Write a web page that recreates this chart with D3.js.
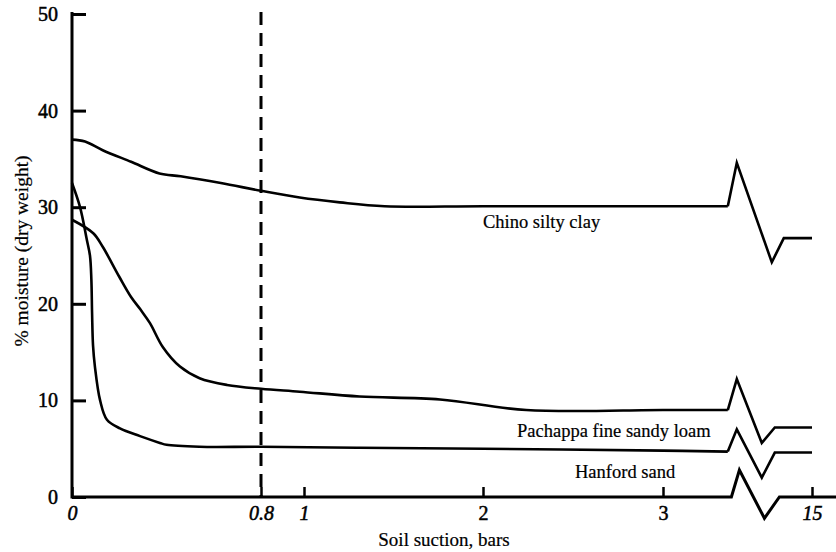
<!DOCTYPE html>
<html>
<head>
<meta charset="utf-8">
<script src="https://cdn.jsdelivr.net/npm/d3@7"></script>
<style>
    body { margin: 0; background: #fff; }
    text { font-family: "Liberation Serif", "Times New Roman", serif; fill: #000; }
</style>
</head>
<body>
<script>
// soil suction (bars) and moisture (% dry weight)
const chinoSuction = [0, 0.055, 0.13, 0.25, 0.37, 0.46, 0.63, 0.8, 0.98, 1.2, 1.45, 2.0, 3.0, 3.36];
const chinoMoisture = [37.0, 36.8, 35.9, 34.7, 33.5, 33.2, 32.5, 31.7, 31.0, 30.5, 30.1, 30.1, 30.1, 30.1];

const pachappaSuction = [0, 0.09, 0.13, 0.2, 0.25, 0.29, 0.33, 0.385, 0.457, 0.54, 0.656, 0.8, 0.98, 1.31, 1.76, 2.24, 3.0, 3.36];
const pachappaMoisture = [28.7, 27.3, 25.9, 22.8, 20.7, 19.4, 18.0, 15.5, 13.5, 12.3, 11.6, 11.2, 10.9, 10.4, 10.1, 9.0, 9.0, 9.0];

const hanfordSuction = [0, 0.034, 0.063, 0.076, 0.082, 0.085, 0.089, 0.097, 0.119, 0.148, 0.203, 0.288, 0.372, 0.40, 0.54, 0.8, 1.31, 2.0, 3.0, 3.36];
const hanfordMoisture = [32.5, 30.0, 26.6, 25.0, 22.5, 19.0, 15.7, 13.5, 10.0, 8.0, 7.1, 6.3, 5.6, 5.4, 5.2, 5.2, 5.1, 5.0, 4.8, 4.7];

// value at the zigzag peak, at its trough, and at 15 bars
const chinoBreak = [34.6, 24.3, 26.8];
const pachappaBreak = [12.2, 5.6, 7.2];
const hanfordBreak = [7.0, 2.0, 4.6];
const axisBreak = [2.8, -2.2, 0];

const seriesNames = ['Chino silty clay', 'Pachappa fine sandy loam', 'Hanford sand'];

const xTickValues = [0, 0.8, 1, 2, 3, 15];
const xTickLabels = ['0', '0.8', '1', '2', '3', '15'];
const yTickValues = [0, 10, 20, 30, 40, 50];
const markedSuction = 0.8;

drawChart();

function drawChart()
{
    const width = 836;
    const height = 552;

    const svg = d3.select('body')
        .append('svg')
        .attr('width', width)
        .attr('height', height);

    // the printed axis is not evenly spaced, so map it piece by piece
    const x = d3.scaleLinear()
        .domain([0, 0.8, 1, 2, 3, 3.4, 15])
        .range([72, 261, 304, 483, 663, 735, 812]);

    const y = d3.scaleLinear()
        .domain([0, 50])
        .range([497, 14]);

    const lastSuction = 3.36;
    const zig = {peak: 9, trough: 34, resume: 47};

    const series = [
        {name: seriesNames[0], s: chinoSuction, m: chinoMoisture, br: chinoBreak, trough: 44, resume: 56},
        {name: seriesNames[1], s: pachappaSuction, m: pachappaMoisture, br: pachappaBreak, trough: zig.trough, resume: zig.resume},
        {name: seriesNames[2], s: hanfordSuction, m: hanfordMoisture, br: hanfordBreak, trough: zig.trough, resume: zig.resume}
    ];

    const line = d3.line()
        .x(d => d[0])
        .y(d => d[1])
        .curve(d3.curveCatmullRom.alpha(0.5));

    const g = svg.append('g');

    // dashed line at 0.8 bar
    g.append('line')
        .attr('x1', x(markedSuction))
        .attr('x2', x(markedSuction))
        .attr('y1', y(50) - 2)
        .attr('y2', y(0))
        .attr('stroke', '#000')
        .attr('stroke-width', 3)
        .attr('stroke-dasharray', '13,8');

    // curves
    series.forEach(d =>
    {
        const pts = d.s.map((v, i) => [x(v), y(d.m[i])]);
        g.append('path')
            .attr('d', line(pts))
            .attr('fill', 'none')
            .attr('stroke', '#000')
            .attr('stroke-width', 2.6);

        const x0 = x(lastSuction);
        const yEnd = y(d.m[d.m.length - 1]);
        const brk = [
            [x0, yEnd],
            [x0 + zig.peak, y(d.br[0])],
            [x0 + d.trough, y(d.br[1])],
            [x0 + d.resume, y(d.br[2])],
            [x(15), y(d.br[2])]
        ];
        g.append('path')
            .attr('d', d3.line()(brk))
            .attr('fill', 'none')
            .attr('stroke', '#000')
            .attr('stroke-width', 2.6)
            .attr('stroke-linejoin', 'miter');
    });

    // y axis
    const yAxis = d3.axisLeft(y)
        .tickValues(yTickValues)
        .tickSize(-14)
        .tickPadding(14);

    const yg = svg.append('g')
        .attr('transform', `translate(${x(0)},0)`)
        .call(yAxis);
    yg.select('.domain').remove();
    yg.selectAll('.tick line').attr('stroke', '#000').attr('stroke-width', 3);
    yg.selectAll('.tick text')
        .attr('font-size', 20)
        .attr('font-family', '"Liberation Serif", serif')
        .attr('fill', '#000')
        .attr('stroke', '#000')
        .attr('stroke-width', 0.5);

    svg.append('line')
        .attr('x1', x(0))
        .attr('x2', x(0))
        .attr('y1', y(50) - 2)
        .attr('y2', y(0) + 1.5)
        .attr('stroke', '#000')
        .attr('stroke-width', 3);

    // x axis with its break
    const xAxis = d3.axisBottom(x)
        .tickValues(xTickValues)
        .tickFormat((d, i) => xTickLabels[i])
        .tickSize(-10)
        .tickPadding(9);

    const xg = svg.append('g')
        .attr('transform', `translate(0,${y(0)})`)
        .call(xAxis);
    xg.select('.domain').remove();
    xg.selectAll('.tick line').attr('stroke', '#000').attr('stroke-width', 2.5);
    xg.selectAll('.tick text')
        .attr('font-size', 20)
        .attr('font-family', '"Liberation Serif", serif')
        .attr('fill', '#000')
        .attr('stroke', '#000')
        .attr('stroke-width', 0.5)
        .attr('font-style', d => (d === 2 || d === 3) ? 'normal' : 'italic');

    const ax0 = x(3.38);
    const axisPts = [
        [x(0), y(0)],
        [ax0, y(0)],
        [ax0 + 8, y(axisBreak[0])],
        [ax0 + 33, y(axisBreak[1])],
        [ax0 + 48, y(axisBreak[2])],
        [width, y(axisBreak[2])]
    ];
    svg.append('path')
        .attr('d', d3.line()(axisPts))
        .attr('fill', 'none')
        .attr('stroke', '#000')
        .attr('stroke-width', 3);

    // curve labels
    const labelPos = [[483, 228], [517, 437], [575, 478]];
    svg.selectAll('.series-label')
        .data(seriesNames)
        .enter()
        .append('text')
        .attr('class', 'series-label')
        .attr('x', (d, i) => labelPos[i][0])
        .attr('y', (d, i) => labelPos[i][1])
        .attr('font-size', 18.5)
        .attr('stroke', '#000')
        .attr('stroke-width', 0.2)
        .text(d => d);

    // axis titles
    svg.append('text')
        .attr('x', 444)
        .attr('y', 546)
        .attr('text-anchor', 'middle')
        .attr('font-size', 19)
        .attr('stroke', '#000')
        .attr('stroke-width', 0.2)
        .text('Soil suction, bars');

    svg.append('text')
        .attr('transform', 'translate(28,251) rotate(-90)')
        .attr('text-anchor', 'middle')
        .attr('font-size', 19.5)
        .attr('stroke', '#000')
        .attr('stroke-width', 0.2)
        .text('% moisture (dry weight)');
}
</script>
</body>
</html>
